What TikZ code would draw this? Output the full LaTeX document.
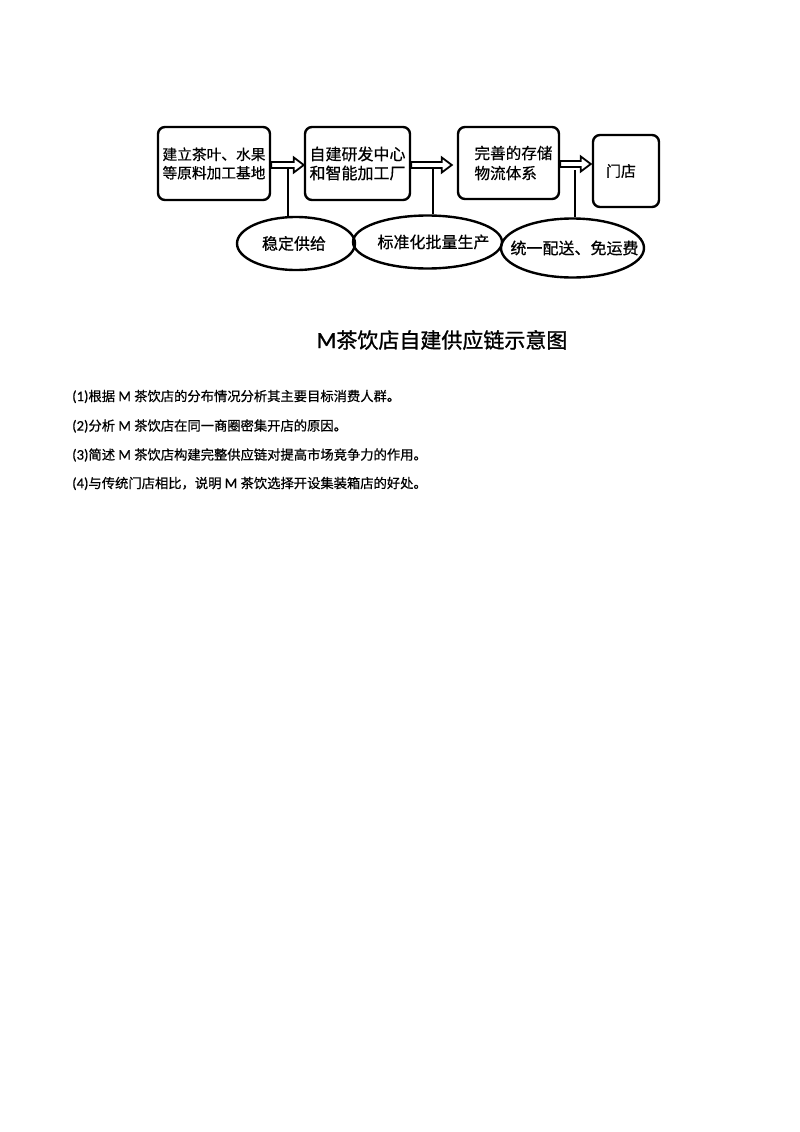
\documentclass[tikz,border=0pt]{standalone}
\usepackage{fontspec}
\setmainfont{Carlito}[Scale=1.1, FakeBold=0.6]
\newfontfamily\cjk{Noto Sans CJK SC}[FakeBold=0.6]
\newfontfamily\cjkt{Noto Sans CJK SC}[FakeBold=1.2]
\newfontfamily\latt{Carlito}[Scale=1.1, FakeBold=1.2]
\usetikzlibrary{calc,shapes.geometric}
\begin{document}
\begin{tikzpicture}[x=1pt,y=-1pt,
  box/.style={draw, line width=2.4pt, rounded corners=7pt, inner sep=0pt, align=left},
  ell/.style={draw, ellipse, line width=2.4pt, inner sep=0pt},
  harr/.style={draw, line width=1.8pt, line join=miter},
  conn/.style={line width=2.2pt},
  etext/.style={font=\cjk\fontsize{16}{18}\selectfont},
  qtext/.style={anchor=west, inner sep=0pt, font=\fontsize{13.3}{16}\selectfont}]
\useasboundingbox (0,0) rectangle (800,1132);
% boxes
\node[box, minimum width=112pt, minimum height=73pt, font=\cjk\fontsize{14.7}{18.5}\selectfont] (b1) at (214,163.5) {建立茶叶、水果\\等原料加工基地};
\node[box, minimum width=105pt, minimum height=73pt, font=\cjk\fontsize{16}{19}\selectfont] (b2) at (357.5,163.5) {自建研发中心\\和智能加工厂};
\node[box, minimum width=101pt, minimum height=72pt, font=\cjk\fontsize{15.6}{20}\selectfont] (b3) at (508.5,163) {\hspace*{10pt}完善的存储\\\hspace*{10pt}物流体系};
\node[box, minimum width=66pt, minimum height=72pt, font=\cjk\fontsize{15}{18}\selectfont] (b4) at (626,171) {门店\hspace*{10pt}};
% ellipses
\node[ell, minimum width=118pt, minimum height=53pt, label={[etext, xshift=-2pt]center:稳定供给}] (e1) at (296,243.5) {};
\node[ell, minimum width=149pt, minimum height=53pt, label={[etext, xshift=6pt]center:标准化批量生产}] (e2) at (427.5,242) {};
\node[ell, minimum width=143pt, minimum height=59pt, label={[etext, xshift=2pt]center:统一配送、免运费}] (e3) at (572.5,248) {};
% hollow arrows
\coordinate (a1s) at ($(b1.east)+(0,1.5)$);
\coordinate (a1e) at ($(b2.west)+(0,1.5)$);
\coordinate (a2s) at ($(b2.east)+(0,1.5)$);
\coordinate (a2e) at ($(b3.west)+(-5,2)$);
\coordinate (a3s) at ($(b3.east)+(0,1)$);
\coordinate (a3e) at ($(b4.west |- b3.east)+(-1,1)$);
\foreach \s/\e in {a1s/a1e, a2s/a2e, a3s/a3e}{
  \draw[harr] ($(\s)+(0,-3)$) -- ($(\e)+(-10,-3)$) -- ($(\e)+(-10,-7.5)$) -- (\e)
     -- ($(\e)+(-10,7.5)$) -- ($(\e)+(-10,3)$) -- ($(\s)+(0,3)$) -- cycle;
}
% vertical connectors
\coordinate (v1) at (288,168.5);
\coordinate (v2) at (433,168.5);
\coordinate (v3) at (575,170);
\draw[conn] (v1) -- (v1 |- e1.north);
\draw[conn] (v2) -- (v2 |- e2.north);
\draw[conn] (v3) -- (v3 |- e3.north);
% title
\node[inner sep=0pt, font=\fontsize{21}{24}\selectfont] (title) at (442,340) {{\latt M}{\cjkt 茶饮店自建供应链示意图}};
% questions
\node[qtext] (q1) at (72,396.5) {(1){\cjk 根据} M {\cjk 茶饮店的分布情况分析其主要目标消费人群。}};
\node[qtext] (q2) at (72,426) {(2){\cjk 分析} M {\cjk 茶饮店在同一商圈密集开店的原因。}};
\node[qtext] (q3) at (72,455) {(3){\cjk 简述} M {\cjk 茶饮店构建完整供应链对提高市场竞争力的作用。}};
\node[qtext] (q4) at (72,483.5) {(4){\cjk 与传统门店相比，说明} M {\cjk 茶饮选择开设集装箱店的好处。}};
\end{tikzpicture}
\end{document}
